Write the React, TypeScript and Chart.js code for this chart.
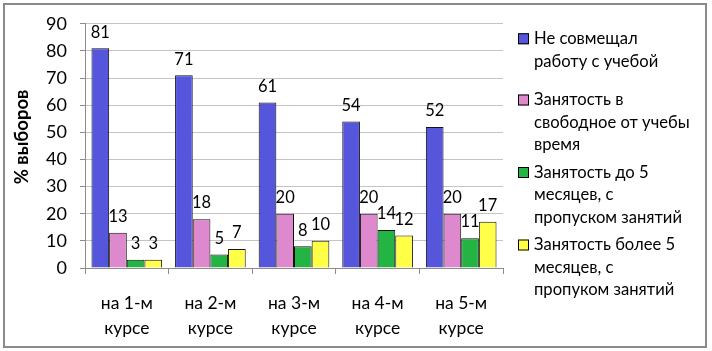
import React, { useEffect, useRef } from "react";
import { Chart, registerables } from "chart.js";

Chart.register(...registerables);

const categories: string[][] = [
  ["на 1-м", "курсе"],
  ["на 2-м", "курсе"],
  ["на 3-м", "курсе"],
  ["на 4-м", "курсе"],
  ["на 5-м", "курсе"],
];

const seriesNames: string[][] = [
  ["Не совмещал", "работу с учебой"],
  ["Занятость в", "свободное от учебы", "время"],
  ["Занятость до 5", "месяцев, с", "пропуском занятий"],
  ["Занятость более 5", "месяцев, с", "пропуком занятий"],
];

const notCombined = [81, 71, 61, 54, 52];
const freeTimeWork = [13, 18, 20, 20, 20];
const upTo5Months = [3, 5, 8, 14, 11];
const over5Months = [3, 7, 10, 12, 17];

const yMin = 0;
const yMax = 90;
const yStep = 10;
const yTitle = "% выборов";

const seriesColors = ["#5656DC", "#DE88CE", "#24B443", "#FFFF48"];

const FONT = "Lato, 'Open Sans', sans-serif";

const valueLabelPlugin = {
  id: "valueLabels",
  afterDatasetsDraw(chart: any) {
    const ctx = chart.ctx;
    ctx.save();
    ctx.font = `16.5px ${FONT}`;
    ctx.fillStyle = "#000";
    ctx.textAlign = "center";
    ctx.textBaseline = "middle";
    chart.data.datasets.forEach((ds: any, i: number) => {
      const meta = chart.getDatasetMeta(i);
      meta.data.forEach((el: any, j: number) => {
        ctx.fillText(String(ds.data[j]), el.x, el.y - 16);
      });
    });
    ctx.restore();
  },
};

const yTitlePlugin = {
  id: "yTitleLeft",
  afterDraw(chart: any) {
    const ctx = chart.ctx;
    ctx.save();
    ctx.translate(22, 137);
    ctx.rotate(-Math.PI / 2);
    ctx.font = `bold 18.5px ${FONT}`;
    ctx.fillStyle = "#000";
    ctx.textAlign = "center";
    ctx.textBaseline = "middle";
    ctx.fillText(yTitle, 0, 0);
    ctx.restore();
  },
};

const sideLegendPlugin = {
  id: "sideLegend",
  afterDraw(chart: any) {
    const ctx = chart.ctx;
    const boxX = 518;
    const textX = 534;
    const box = 11;
    const lineH = 22.5;
    const slotH = 72.5;
    const firstSlotCenter = 50;
    ctx.save();
    ctx.font = `16.6px ${FONT}`;
    ctx.textAlign = "left";
    ctx.textBaseline = "middle";
    chart.data.datasets.forEach((ds: any, i: number) => {
      const lines: string[] = ds.legendLines;
      const center = firstSlotCenter + i * slotH;
      const firstY = center - ((lines.length - 1) * lineH) / 2;
      ctx.fillStyle = ds.backgroundColor;
      ctx.fillRect(boxX, firstY - box / 2, box, box);
      ctx.strokeStyle = "#000";
      ctx.lineWidth = 1;
      ctx.strokeRect(boxX + 0.5, firstY - box / 2 + 0.5, box - 1, box - 1);
      ctx.fillStyle = "#000";
      lines.forEach((t, k) => ctx.fillText(t, textX, firstY + k * lineH));
    });
    ctx.restore();
  },
};

export default function App() {
  const ref = useRef<HTMLCanvasElement | null>(null);

  useEffect(() => {
    const prevMargin = document.body.style.margin;
    document.body.style.margin = "0";
    const seriesData = [notCombined, freeTimeWork, upTo5Months, over5Months];
    const chart = new Chart(ref.current as HTMLCanvasElement, {
      type: "bar",
      data: {
        labels: categories,
        datasets: seriesData.map((d, i) => ({
          label: seriesNames[i].join(" "),
          legendLines: seriesNames[i],
          data: d,
          backgroundColor: seriesColors[i],
          borderColor: "#111",
          borderWidth: 1,
          barPercentage: 1,
          categoryPercentage: 0.845,
        })) as any,
      },
      options: {
        animation: false,
        responsive: true,
        maintainAspectRatio: false,
        layout: { padding: { left: 0, right: 209, top: 21, bottom: 0 } },
        plugins: {
          legend: { display: false },
          tooltip: { enabled: false },
        },
        scales: {
          x: {
            afterFit: (s: any) => {
              s.height = 83;
            },
            grid: {
              display: true,
              drawOnChartArea: false,
              drawTicks: true,
              tickLength: 6,
              tickColor: "#8c8c8c",
              offset: true,
            },
            border: { display: true, color: "#8c8c8c", width: 1 },
            ticks: {
              color: "#000",
              font: { family: FONT, size: 17.5, lineHeight: 1.43 },
              padding: 17,
              maxRotation: 0,
              autoSkip: false,
            },
          },
          y: {
            min: yMin,
            max: yMax,
            afterFit: (s: any) => {
              s.width = 85;
            },
            grid: {
              color: "#c4c4c4",
              tickColor: "#8c8c8c",
              drawTicks: true,
              tickLength: 5,
            },
            border: { display: true, color: "#8c8c8c", width: 1 },
            ticks: {
              stepSize: yStep,
              color: "#000",
              font: { family: FONT, size: 18 },
              padding: 13,
            },
          },
        },
      },
      plugins: [valueLabelPlugin, yTitlePlugin, sideLegendPlugin],
    });
    return () => {
      chart.destroy();
      document.body.style.margin = prevMargin;
    };
  }, []);

  return (
    <div style={{ position: "fixed", left: 0, top: 0, width: 712, height: 351, background: "#fff" }}>
      <div style={{ position: "absolute", left: 0, top: 0, width: 712, height: 351 }}>
        <canvas ref={ref} />
      </div>
      <div
        style={{
          position: "absolute",
          left: 3,
          top: 3,
          width: 700,
          height: 341,
          border: "2px solid #8a8a8a",
          pointerEvents: "none",
        }}
      />
    </div>
  );
}
